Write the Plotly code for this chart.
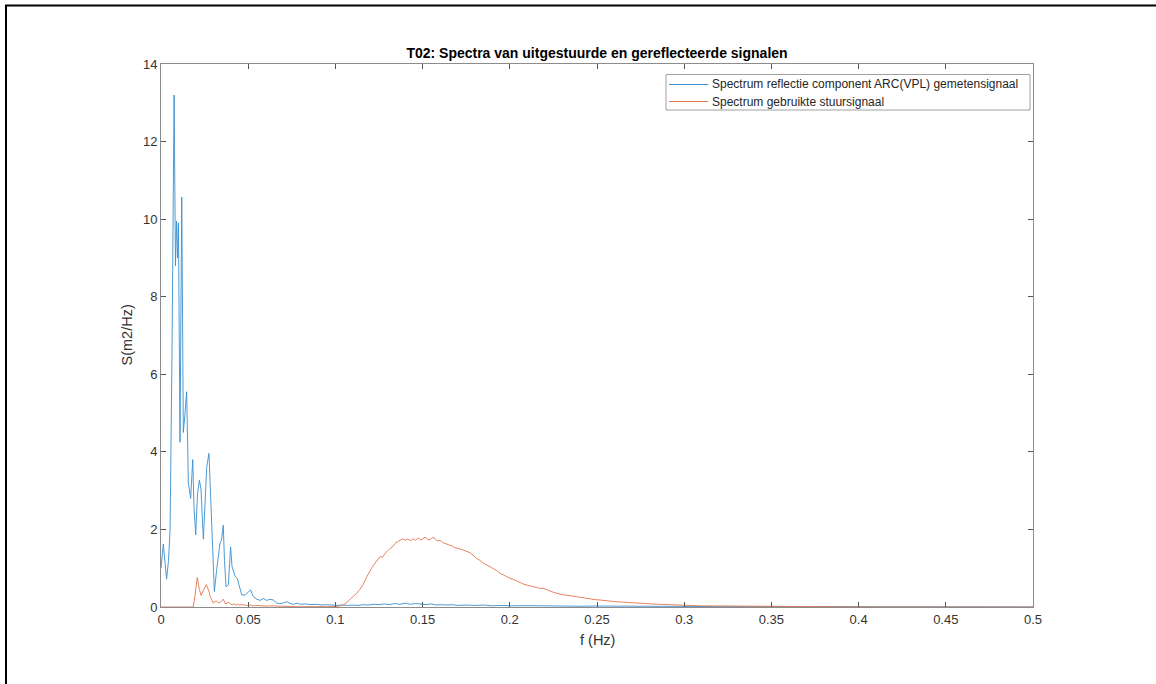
import plotly.graph_objects as go

# ---- data ----
blue_f = [0.0, 0.0013, 0.0032, 0.0043, 0.0052, 0.0063, 0.0075, 0.0083, 0.0089, 0.0095,
          0.0100, 0.0109, 0.0119, 0.0128, 0.0138, 0.0147, 0.0157, 0.0163, 0.0170, 0.0182,
          0.0189, 0.0199, 0.0209, 0.0220, 0.0229, 0.0243, 0.0252, 0.0262, 0.0275, 0.0284,
          0.0291, 0.0298, 0.0306, 0.0319, 0.0330, 0.0338, 0.0347, 0.0357, 0.0364, 0.0373,
          0.0386, 0.0399, 0.0407, 0.0415, 0.0424, 0.0437, 0.0449, 0.0463, 0.0482, 0.0501,
          0.0514, 0.0529, 0.0549, 0.0568, 0.0587, 0.0606, 0.0625, 0.0644, 0.0663, 0.0682,
          0.0701, 0.0721, 0.074, 0.076, 0.078, 0.080, 0.083, 0.086, 0.089, 0.092,
          0.095, 0.098, 0.101, 0.104, 0.107, 0.110, 0.113, 0.116, 0.119, 0.122,
          0.125, 0.128, 0.131, 0.134, 0.137, 0.140, 0.143, 0.146, 0.149, 0.152,
          0.155, 0.158, 0.161, 0.164, 0.167, 0.170, 0.175, 0.180, 0.185, 0.190,
          0.195, 0.200, 0.210, 0.220, 0.230, 0.240, 0.250, 0.260, 0.270, 0.280,
          0.290, 0.300, 0.320, 0.340, 0.360, 0.380, 0.400, 0.420, 0.450, 0.480, 0.500]
blue_S = [1.0, 1.62, 0.72, 1.2, 2.0, 6.5, 13.2, 8.8, 9.95, 9.0,
          9.9, 4.25, 10.57, 4.5, 5.0, 5.55, 3.2, 2.95, 2.8, 3.8,
          2.6, 1.86, 2.9, 3.27, 3.05, 1.75, 2.8, 3.6, 3.96, 2.9,
          1.9, 0.9, 0.4, 0.95, 1.45, 1.64, 1.72, 2.11, 1.2, 0.52,
          0.57, 1.55, 1.05, 0.91, 0.8, 0.74, 0.52, 0.31, 0.31, 0.4,
          0.44, 0.27, 0.2, 0.17, 0.22, 0.17, 0.2, 0.18, 0.1, 0.09,
          0.1, 0.14, 0.09, 0.07, 0.1, 0.07, 0.08, 0.06, 0.07, 0.05,
          0.06, 0.05, 0.04, 0.05, 0.04, 0.05, 0.04, 0.06, 0.05, 0.07,
          0.06, 0.08, 0.06, 0.09, 0.07, 0.1, 0.07, 0.09, 0.08, 0.06,
          0.08, 0.05, 0.06, 0.05, 0.06, 0.04, 0.05, 0.04, 0.05, 0.03,
          0.04, 0.03, 0.035, 0.025, 0.03, 0.02, 0.025, 0.02, 0.015, 0.02,
          0.012, 0.015, 0.01, 0.008, 0.006, 0.005, 0.003, 0.002, 0.002, 0.001, 0.001]

orange_f = [0.0, 0.0185, 0.0195, 0.0208, 0.022, 0.023, 0.0245, 0.026, 0.0275, 0.0282,
            0.030, 0.031, 0.032, 0.033, 0.034, 0.0357, 0.037, 0.038, 0.039, 0.040,
            0.041, 0.042, 0.043, 0.044, 0.045, 0.047, 0.049, 0.051, 0.053, 0.055,
            0.057, 0.060, 0.063, 0.066, 0.070, 0.074, 0.078, 0.082, 0.086, 0.090,
            0.095, 0.0998, 0.102, 0.1045, 0.106, 0.108, 0.110, 0.1122, 0.114, 0.116,
            0.118, 0.1198, 0.121, 0.1227, 0.124, 0.1256, 0.127, 0.1284, 0.130, 0.1313,
            0.133, 0.1342, 0.1355, 0.137, 0.1385, 0.140, 0.1415, 0.143, 0.1447, 0.146,
            0.1475, 0.149, 0.150, 0.1514, 0.153, 0.1542, 0.1555, 0.157, 0.1585, 0.160,
            0.1615, 0.163, 0.1645, 0.1657, 0.167, 0.1685, 0.1695, 0.171, 0.1733, 0.175,
            0.1772, 0.179, 0.181, 0.183, 0.1848, 0.1865, 0.1886, 0.190, 0.1925, 0.194,
            0.1963, 0.198, 0.2001, 0.202, 0.204, 0.206, 0.2078, 0.210, 0.2116, 0.2135,
            0.2154, 0.217, 0.2192, 0.2221, 0.225, 0.2288, 0.2315, 0.2345, 0.237, 0.2403,
            0.243, 0.246, 0.249, 0.2517, 0.2545, 0.2575, 0.260, 0.2632, 0.266, 0.269,
            0.272, 0.2747, 0.2775, 0.2804, 0.283, 0.2861, 0.290, 0.2938, 0.298, 0.3014,
            0.305, 0.309, 0.315, 0.3224, 0.329, 0.3358, 0.343, 0.3511, 0.360, 0.370,
            0.380, 0.390, 0.400, 0.420, 0.440, 0.460, 0.480, 0.500]
orange_S = [0.0, 0.0, 0.3, 0.76, 0.45, 0.3, 0.45, 0.58, 0.4, 0.27,
            0.1, 0.14, 0.15, 0.1, 0.12, 0.2, 0.08, 0.1, 0.12, 0.07,
            0.06, 0.08, 0.05, 0.07, 0.05, 0.06, 0.04, 0.05, 0.03, 0.04,
            0.03, 0.025, 0.03, 0.02, 0.015, 0.012, 0.008, 0.006, 0.004, 0.003,
            0.004, 0.01, 0.025, 0.05, 0.1, 0.18, 0.25, 0.35, 0.45, 0.59,
            0.78, 0.95, 1.02, 1.13, 1.2, 1.3, 1.28, 1.38, 1.45, 1.51,
            1.56, 1.64, 1.68, 1.71, 1.76, 1.72, 1.75, 1.71, 1.76, 1.72,
            1.78, 1.73, 1.76, 1.8, 1.74, 1.73, 1.79, 1.77, 1.7, 1.72,
            1.66, 1.64, 1.62, 1.6, 1.57, 1.53, 1.51, 1.5, 1.47, 1.44,
            1.4, 1.33, 1.25, 1.2, 1.13, 1.09, 1.04, 1.0, 0.94, 0.88,
            0.82, 0.78, 0.74, 0.71, 0.68, 0.63, 0.59, 0.56, 0.54, 0.52,
            0.51, 0.48, 0.48, 0.42, 0.38, 0.33, 0.31, 0.29, 0.27, 0.25,
            0.23, 0.21, 0.19, 0.18, 0.16, 0.15, 0.14, 0.13, 0.12, 0.11,
            0.1, 0.094, 0.09, 0.085, 0.075, 0.07, 0.06, 0.05, 0.048, 0.045,
            0.035, 0.03, 0.028, 0.025, 0.02, 0.017, 0.013, 0.01, 0.008, 0.005,
            0.004, 0.004, 0.003, 0.002, 0.002, 0.001, 0.001, 0.0]

x_ticks = [0, 0.05, 0.1, 0.15, 0.2, 0.25, 0.3, 0.35, 0.4, 0.45, 0.5]
x_labels = ["0", "0.05", "0.1", "0.15", "0.2", "0.25", "0.3", "0.35", "0.4", "0.45", "0.5"]
y_ticks = [0, 2, 4, 6, 8, 10, 12, 14]
y_labels = ["0", "2", "4", "6", "8", "10", "12", "14"]

series_names = ["Spectrum reflectie component ARC(VPL) gemetensignaal",
                "Spectrum gebruikte stuursignaal"]
series_colors = ["#3a8fcf", "#e2764f"]
title_text = "T02: Spectra van uitgestuurde en gereflecteerde signalen"

# ---- figure ----
W, H = 1156, 684
L, R, T, B = 161, 123, 64, 77
pw, ph = W - L - R, H - T - B

def px(xp):
    return (xp - L) / pw

def py(yp):
    return (H - B - yp) / ph

FONT = "Liberation Sans, Arial, Helvetica, sans-serif"
TXT = "#333333"

fig = go.Figure()
fig.add_trace(go.Scatter(x=blue_f, y=blue_S, mode="lines", name=series_names[0],
                         line=dict(color=series_colors[0], width=0.9), showlegend=False))
fig.add_trace(go.Scatter(x=orange_f, y=orange_S, mode="lines", name=series_names[1],
                         line=dict(color=series_colors[1], width=0.9), showlegend=False))

axis_common = dict(showgrid=False, zeroline=False, showline=True, mirror="ticks",
                   linecolor="#8c8c8c", linewidth=1, ticks="inside", ticklen=5,
                   tickcolor="#555555", tickwidth=1,
                   tickfont=dict(family=FONT, size=13, color=TXT))

fig.update_layout(
    width=W, height=H,
    margin=dict(l=L, r=R, t=T, b=B),
    paper_bgcolor="white", plot_bgcolor="white",
    showlegend=False,
    xaxis=dict(range=[0, 0.5], tickvals=x_ticks, ticktext=x_labels, **axis_common),
    yaxis=dict(range=[0, 14], tickvals=y_ticks, ticktext=y_labels, **axis_common),
    title=dict(text="<b>" + title_text + "</b>", x=0.5, xref="paper",
               y=1 - 53 / H, yref="container", yanchor="middle", xanchor="center",
               font=dict(family=FONT, size=14, color="#000000")),
)

fig.add_annotation(text="f (Hz)", xref="paper", yref="paper", x=0.5, y=py(640),
                   showarrow=False, xanchor="center", yanchor="middle",
                   font=dict(family=FONT, size=14.5, color=TXT))
fig.add_annotation(text="S(m2/Hz)", xref="paper", yref="paper", x=px(126), y=0.5,
                   showarrow=False, textangle=-90, xanchor="center", yanchor="middle",
                   font=dict(family=FONT, size=14.5, color=TXT))

# legend box (drawn like the MATLAB legend)
fig.add_shape(type="rect", xref="paper", yref="paper", x0=px(666), x1=px(1030),
              y0=py(110), y1=py(74.5), line=dict(color="#a0a0a0", width=1),
              fillcolor="white", layer="above")
for i, (nm, col) in enumerate(zip(series_names, series_colors)):
    yy = 84.5 + i * 17
    fig.add_shape(type="line", xref="paper", yref="paper", x0=px(669), x1=px(708),
                  y0=py(yy), y1=py(yy), line=dict(color=col, width=1), layer="above")
    fig.add_annotation(text=nm, xref="paper", yref="paper", x=px(710), y=py(yy),
                       showarrow=False, xanchor="left", yanchor="middle",
                       font=dict(family=FONT, size=12, color="#262626"))

# outer black frame of the figure
fig.add_shape(type="rect", xref="paper", yref="paper", x0=px(6), x1=px(W + 5),
              y0=py(H + 5), y1=py(5.5),
              line=dict(color="black", width=2), fillcolor="rgba(0,0,0,0)", layer="above")

fig.write_html("out.html")
